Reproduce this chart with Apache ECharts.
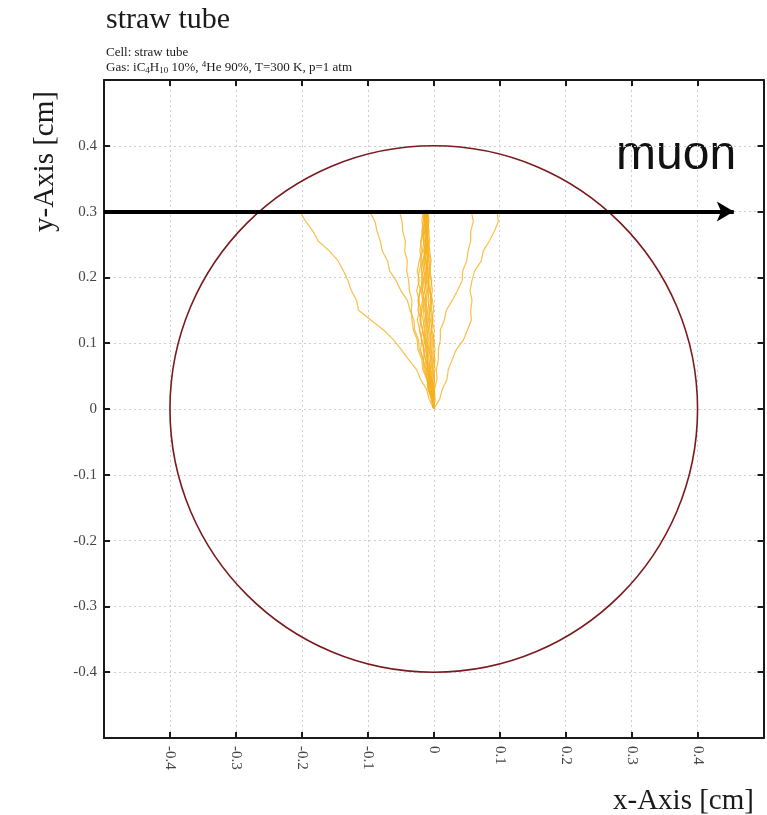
<!DOCTYPE html>
<html>
<head>
<meta charset="utf-8">
<script src="https://cdn.jsdelivr.net/npm/echarts@6/dist/echarts.min.js"></script>
<style>
  html, body { margin: 0; padding: 0; background: #ffffff; }
  #chart { width: 767px; height: 815px; }
</style>
</head>
<body>
<div id="chart"></div>
<script>
// Axis ticks (cm) and their printed labels
const tickValues = [-0.4, -0.3, -0.2, -0.1, 0, 0.1, 0.2, 0.3, 0.4];
const tickLabels = ['-0.4', '-0.3', '-0.2', '-0.1', '0', '0.1', '0.2', '0.3', '0.4'];

// Straw wall: centre x, centre y, radius (cm)
const tubeWall = [[0, 0, 0.4]];

// Muon trajectory: start and end point (cm)
const muonPath = [[-0.5, 0.3], [0.455, 0.3]];

// Common y levels (cm) at which every drift line is sampled, from the muon track down to the wire
const driftY = [0.300, 0.285, 0.270, 0.255, 0.240, 0.225, 0.210, 0.195, 0.180, 0.165, 0.150,
                0.135, 0.120, 0.105, 0.090, 0.075, 0.060, 0.045, 0.030, 0.015, 0.000];

// Electron drift lines: x position (cm) at each driftY level
const driftA = [-0.203, -0.194, -0.183, -0.175, -0.158, -0.145, -0.137, -0.130, -0.125, -0.117, -0.114,
                -0.095, -0.076, -0.061, -0.049, -0.038, -0.026, -0.020, -0.011, -0.007, 0];
const driftB = [-0.097, -0.089, -0.086, -0.081, -0.078, -0.070, -0.067, -0.057, -0.050, -0.040, -0.036,
                -0.030, -0.029, -0.023, -0.022, -0.016, -0.015, -0.010, -0.008, -0.003, 0];
const driftC = [-0.052, -0.048, -0.047, -0.043, -0.044, -0.040, -0.041, -0.038, -0.037, -0.033, -0.034,
                -0.033, -0.031, -0.025, -0.024, -0.018, -0.017, -0.010, -0.009, -0.003, 0];
const driftD = [0.057, 0.060, 0.056, 0.056, 0.052, 0.050, 0.044, 0.043, 0.036, 0.028, 0.019,
                0.016, 0.010, 0.010, 0.007, 0.007, 0.004, 0.005, 0.001, 0.002, 0];
const driftE = [0.096, 0.098, 0.092, 0.084, 0.075, 0.072, 0.062, 0.058, 0.055, 0.058, 0.056,
                0.057, 0.051, 0.045, 0.034, 0.028, 0.022, 0.020, 0.013, 0.009, 0];
const drift1 = [-0.016, -0.018, -0.015, -0.019, -0.021, -0.018, -0.022, -0.024, -0.020, -0.023, -0.019,
                -0.021, -0.017, -0.019, -0.015, -0.013, -0.011, -0.008, -0.006, -0.003, 0];
const drift2 = [-0.014, -0.011, -0.013, -0.010, -0.012, -0.015, -0.013, -0.016, -0.019, -0.017, -0.020,
                -0.016, -0.013, -0.015, -0.011, -0.009, -0.010, -0.006, -0.004, -0.002, 0];
const drift3 = [-0.013, -0.015, -0.012, -0.009, -0.011, -0.008, -0.010, -0.007, -0.009, -0.012, -0.010,
                -0.006, -0.008, -0.005, -0.007, -0.004, -0.005, -0.003, -0.002, -0.001, 0];
const drift4 = [-0.012, -0.010, -0.014, -0.016, -0.013, -0.017, -0.015, -0.012, -0.014, -0.011, -0.013,
                -0.009, -0.011, -0.012, -0.008, -0.010, -0.006, -0.007, -0.004, -0.002, 0];
const drift5 = [-0.011, -0.013, -0.010, -0.012, -0.009, -0.011, -0.007, -0.009, -0.006, -0.004, -0.007,
                -0.005, -0.003, -0.006, -0.004, -0.002, -0.004, -0.002, -0.001, 0.000, 0];
const drift6 = [-0.010, -0.008, -0.011, -0.009, -0.013, -0.016, -0.019, -0.017, -0.021, -0.024, -0.022,
                -0.025, -0.021, -0.018, -0.020, -0.016, -0.013, -0.010, -0.007, -0.004, 0];
const drift7 = [-0.009, -0.011, -0.008, -0.006, -0.009, -0.007, -0.005, -0.008, -0.006, -0.003, -0.005,
                -0.002, -0.004, -0.001, -0.003, 0.000, -0.002, 0.001, 0.000, 0.001, 0];
const drift8 = [-0.008, -0.010, -0.012, -0.009, -0.007, -0.010, -0.012, -0.014, -0.011, -0.013, -0.016,
                -0.014, -0.017, -0.013, -0.010, -0.012, -0.008, -0.005, -0.006, -0.003, 0];
const drift9 = [-0.013, -0.016, -0.018, -0.015, -0.017, -0.020, -0.018, -0.015, -0.017, -0.014, -0.011,
                -0.013, -0.010, -0.008, -0.010, -0.007, -0.005, -0.006, -0.003, -0.001, 0];
const drift10 = [-0.015, -0.013, -0.016, -0.014, -0.011, -0.013, -0.010, -0.012, -0.009, -0.007, -0.009,
                 -0.011, -0.008, -0.010, -0.007, -0.005, -0.007, -0.004, -0.002, -0.001, 0];
const drift11 = [-0.011, -0.009, -0.007, -0.010, -0.008, -0.005, -0.007, -0.004, -0.002, -0.005, -0.003,
                 -0.001, -0.003, 0.001, -0.001, 0.002, 0.000, 0.001, -0.001, 0.000, 0];
const drift12 = [-0.010, -0.012, -0.014, -0.012, -0.015, -0.013, -0.016, -0.019, -0.017, -0.015, -0.018,
                 -0.020, -0.017, -0.014, -0.016, -0.012, -0.009, -0.007, -0.005, -0.002, 0];
const drift13 = [-0.017, -0.014, -0.017, -0.020, -0.018, -0.022, -0.025, -0.022, -0.026, -0.022, -0.024,
                 -0.019, -0.022, -0.018, -0.014, -0.016, -0.012, -0.009, -0.007, -0.003, 0];
const drift14 = [-0.012, -0.014, -0.011, -0.008, -0.006, -0.004, -0.006, -0.003, -0.005, -0.002, 0.000,
                 -0.003, 0.001, -0.001, 0.002, 0.000, 0.002, -0.001, 0.001, 0.000, 0];
const drift15 = [-0.014, -0.012, -0.009, -0.012, -0.015, -0.012, -0.009, -0.011, -0.014, -0.017, -0.014,
                 -0.011, -0.014, -0.011, -0.013, -0.009, -0.008, -0.005, -0.003, -0.002, 0];
const drift16 = [-0.009, -0.007, -0.010, -0.013, -0.011, -0.009, -0.012, -0.010, -0.007, -0.009, -0.006,
                 -0.008, -0.006, -0.003, -0.005, -0.003, -0.001, -0.003, -0.001, 0.000, 0];

const driftLines = [driftA, driftB, driftC, driftD, driftE, drift1, drift2, drift3, drift4,
                    drift5, drift6, drift7, drift8, drift9, drift10, drift11, drift12,
                    drift13, drift14, drift15, drift16];

const serif = '"Liberation Serif", "DejaVu Serif", serif';
const sans = '"Liberation Sans", Arial, sans-serif';

function tickText(v) {
  const i = tickValues.findIndex(t => Math.abs(t - v) < 1e-6);
  return i < 0 ? '' : tickLabels[i];
}

function frameAxis(position, withLabels) {
  const isX = position === 'bottom' || position === 'top';
  return {
    type: 'value',
    position: position,
    min: -0.5,
    max: 0.5,
    interval: 0.1,
    axisLine: { show: true, onZero: false, lineStyle: { color: '#1a1a1a', width: 2 } },
    axisTick: { show: true, inside: true, length: 6, lineStyle: { color: '#1a1a1a', width: 2 } },
    axisLabel: withLabels ? {
      show: true,
      rotate: isX ? -90 : 0,
      margin: isX ? 8 : 7,
      fontFamily: serif,
      fontSize: 15,
      color: '#444',
      formatter: tickText
    } : { show: false },
    splitLine: withLabels ? { show: true, lineStyle: { color: '#cfcfcf', width: 1, type: [2, 3] } } : { show: false }
  };
}

const driftSeries = driftLines.map((xs, k) => ({
  type: 'line',
  name: 'drift' + k,
  xAxisIndex: 0,
  yAxisIndex: 0,
  data: xs.map((x, i) => [x, driftY[i]]),
  showSymbol: false,
  symbol: 'none',
  smooth: false,
  silent: true,
  z: 3,
  lineStyle: { color: '#f6b01f', width: 1.2, opacity: 0.8 }
}));

const chart = echarts.init(document.getElementById('chart'), null, { renderer: 'canvas' });

chart.setOption({
  animation: false,
  backgroundColor: '#ffffff',
  title: {
    text: 'straw tube',
    subtext: 'Cell: straw tube\nGas: iC{sub|4}H{sub|10} 10%, {sup|4}He 90%, T=300 K, p=1 atm',
    left: 101,
    top: 0,
    itemGap: 10,
    textStyle: { fontFamily: serif, fontSize: 30, fontWeight: 'normal', color: '#1a1a1a' },
    subtextStyle: {
      fontFamily: serif, fontSize: 13, color: '#1a1a1a', lineHeight: 15,
      rich: {
        sub: { fontFamily: serif, fontSize: 9, color: '#1a1a1a', padding: [7, 0, 0, 0] },
        sup: { fontFamily: serif, fontSize: 9, color: '#1a1a1a', padding: [0, 0, 6, 0] }
      }
    }
  },
  grid: { left: 104, right: 3.5, top: 80, bottom: 77, containLabel: false },
  xAxis: [frameAxis('bottom', true), frameAxis('top', false)],
  yAxis: [frameAxis('left', true), frameAxis('right', false)],
  graphic: [
    {
      type: 'text', left: 613, top: 787,
      style: { text: 'x-Axis [cm]', font: '29px ' + serif, fill: '#1a1a1a' }
    },
    {
      type: 'text', x: 31, y: 232, rotation: Math.PI / 2,
      style: { text: 'y-Axis [cm]', font: '29px ' + serif, fill: '#1a1a1a' }
    },
    {
      type: 'text', left: 616, top: 132,
      style: { text: 'muon', font: '48px ' + sans, fill: '#111' }
    }
  ],
  series: [
    {
      type: 'custom',
      name: 'wall',
      xAxisIndex: 0,
      yAxisIndex: 0,
      data: tubeWall,
      silent: true,
      z: 2,
      renderItem: function (params, api) {
        const c = api.coord([api.value(0), api.value(1)]);
        const s = api.size([api.value(2), api.value(2)]);
        return {
          type: 'ellipse',
          shape: { cx: c[0], cy: c[1], rx: s[0], ry: s[1] },
          style: { fill: 'none', stroke: '#7a1a1f', lineWidth: 1.6 }
        };
      }
    },
    ...driftSeries,
    {
      type: 'line',
      name: 'muon',
      xAxisIndex: 0,
      yAxisIndex: 0,
      data: [],
      silent: true,
      z: 5,
      markLine: {
        silent: true,
        symbol: ['none', 'arrow'],
        symbolSize: [15, 17],
        label: { show: false },
        lineStyle: { color: '#000', width: 4, type: 'solid' },
        data: [[{ coord: muonPath[0] }, { coord: muonPath[1] }]]
      }
    }
  ]
});
</script>
</body>
</html>
